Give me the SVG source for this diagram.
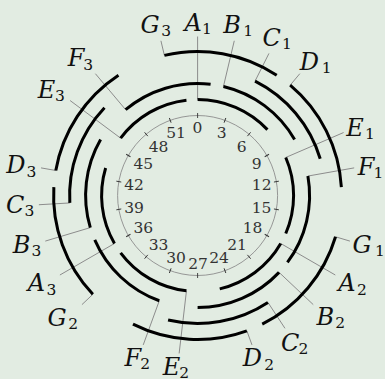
<svg xmlns="http://www.w3.org/2000/svg" width="385" height="379" viewBox="0 0 385 379">
<style>
.arc{fill:none;stroke:#000;stroke-width:3}
.lead{stroke:#8c8c8c;stroke-width:1;fill:none}
.dial{fill:none;stroke:#8c8c8c;stroke-width:0.9}
.tick{stroke:#333;stroke-width:0.9}
.num{font-family:'DejaVu Serif',serif;font-size:15.5px;fill:#333;text-anchor:middle}
.lab{font-family:'DejaVu Serif',serif;font-size:24px;font-style:italic;fill:#111}
.sub{font-size:15.5px;font-style:normal}
</style>
<rect width="385" height="379" fill="#e2ece2"/>
<g id="dial">
<circle class="dial" cx="197.6" cy="195.5" r="80"/>
<g class="tick">
<line x1="197.6" y1="113" x2="197.6" y2="118"/>
<line x1="197.6" y1="113" x2="197.6" y2="118" transform="rotate(20 197.6 195.5)"/>
<line x1="197.6" y1="113" x2="197.6" y2="118" transform="rotate(40 197.6 195.5)"/>
<line x1="197.6" y1="113" x2="197.6" y2="118" transform="rotate(60 197.6 195.5)"/>
<line x1="197.6" y1="113" x2="197.6" y2="118" transform="rotate(80 197.6 195.5)"/>
<line x1="197.6" y1="113" x2="197.6" y2="118" transform="rotate(100 197.6 195.5)"/>
<line x1="197.6" y1="113" x2="197.6" y2="118" transform="rotate(120 197.6 195.5)"/>
<line x1="197.6" y1="113" x2="197.6" y2="118" transform="rotate(140 197.6 195.5)"/>
<line x1="197.6" y1="113" x2="197.6" y2="118" transform="rotate(160 197.6 195.5)"/>
<line x1="197.6" y1="113" x2="197.6" y2="118" transform="rotate(180 197.6 195.5)"/>
<line x1="197.6" y1="113" x2="197.6" y2="118" transform="rotate(200 197.6 195.5)"/>
<line x1="197.6" y1="113" x2="197.6" y2="118" transform="rotate(220 197.6 195.5)"/>
<line x1="197.6" y1="113" x2="197.6" y2="118" transform="rotate(240 197.6 195.5)"/>
<line x1="197.6" y1="113" x2="197.6" y2="118" transform="rotate(260 197.6 195.5)"/>
<line x1="197.6" y1="113" x2="197.6" y2="118" transform="rotate(280 197.6 195.5)"/>
<line x1="197.6" y1="113" x2="197.6" y2="118" transform="rotate(300 197.6 195.5)"/>
<line x1="197.6" y1="113" x2="197.6" y2="118" transform="rotate(320 197.6 195.5)"/>
<line x1="197.6" y1="113" x2="197.6" y2="118" transform="rotate(340 197.6 195.5)"/>
</g>
<g class="num">
<text x="197.5" y="133.3">0</text>
<text x="221.7" y="137.5">3</text>
<text x="241.7" y="151.8">6</text>
<text x="256.7" y="168.5">9</text>
<text x="261.7" y="189.8">12</text>
<text x="261.5" y="212.8">15</text>
<text x="252.5" y="232.8">18</text>
<text x="237" y="250.3">21</text>
<text x="219" y="262.8">24</text>
<text x="198" y="269.1">27</text>
<text x="176" y="262.8">30</text>
<text x="158.5" y="250.3">33</text>
<text x="143.3" y="232.8">36</text>
<text x="134" y="212.8">39</text>
<text x="134" y="189.8">42</text>
<text x="143.3" y="168.5">45</text>
<text x="158.5" y="151.8">48</text>
<text x="176" y="137.8">51</text>
</g>
</g>
<g id="connectors" class="lead">
<line x1="197.6" y1="99.5" x2="197.6" y2="36.5"/>
<line x1="223.43" y1="86.52" x2="234.27" y2="40.79"/>
<line x1="255.05" y1="81.12" x2="268.96" y2="53.41"/>
<line x1="290.16" y1="85.19" x2="299.8" y2="73.7"/>
<line x1="285.75" y1="157.48" x2="343.6" y2="132.52"/>
<line x1="307.9" y1="176.05" x2="354.18" y2="167.89"/>
<line x1="335.55" y1="236.8" x2="349.92" y2="241.1"/>
<line x1="280.74" y1="243.5" x2="335.3" y2="275"/>
<line x1="279.07" y1="272.36" x2="313.25" y2="304.61"/>
<line x1="267.94" y1="302.44" x2="284.97" y2="328.34"/>
<line x1="246.85" y1="330.82" x2="251.98" y2="344.91"/>
<line x1="186.46" y1="290.85" x2="179.14" y2="353.43"/>
<line x1="159.29" y1="300.75" x2="143.22" y2="344.91"/>
<line x1="92.86" y1="294.32" x2="81.95" y2="304.61"/>
<line x1="114.46" y1="243.5" x2="59.9" y2="275"/>
<line x1="90.31" y1="227.62" x2="45.28" y2="241.1"/>
<line x1="69.82" y1="202.94" x2="38.87" y2="204.74"/>
<line x1="55.79" y1="170.49" x2="41.02" y2="167.89"/>
<line x1="120.61" y1="138.16" x2="70.08" y2="100.53"/>
<line x1="125.61" y1="109.7" x2="95.4" y2="73.7"/>
<line x1="164.39" y1="55.38" x2="160.93" y2="40.79"/>
</g>
<g id="A1"><path class="arc" d="M197.6,99.5 A96,96 0 0 1 267.43,129.62"/><text class="lab" x="184.5" y="30.5">A<tspan class="sub" x="202" y="34">1</tspan></text></g>
<g id="B1"><path class="arc" d="M223.43,86.52 A112,112 0 0 1 294.6,139.5"/><text class="lab" x="223.2" y="32.5">B<tspan class="sub" x="243.3" y="36">1</tspan></text></g>
<g id="C1"><path class="arc" d="M255.05,81.12 A128,128 0 0 1 320.22,158.79"/><text class="lab" x="262.5" y="45.5">C<tspan class="sub" x="282" y="49">1</tspan></text></g>
<g id="D1"><path class="arc" d="M290.16,85.19 A144,144 0 0 1 341.36,187.13"/><text class="lab" x="299.8" y="69.5">D<tspan class="sub" x="321.7" y="73">1</tspan></text></g>
<g id="E1"><path class="arc" d="M285.75,157.48 A96,96 0 0 1 285.75,233.52"/><text class="lab" x="346.2" y="135.5">E<tspan class="sub" x="365" y="139">1</tspan></text></g>
<g id="F1"><path class="arc" d="M307.9,176.05 A112,112 0 0 1 287.43,262.4"/><text class="lab" x="357.8" y="174.5">F<tspan class="sub" x="373.5" y="178">1</tspan></text></g>
<g id="G1"><path class="arc" d="M335.55,236.8 A144,144 0 0 1 262.23,324.18"/><text class="lab" x="352.5" y="252.5">G<tspan class="sub" x="375" y="256">1</tspan></text></g>
<g id="A2"><path class="arc" d="M280.74,243.5 A96,96 0 0 1 219.74,288.91"/><text class="lab" x="338.2" y="291">A<tspan class="sub" x="357" y="294.5">2</tspan></text></g>
<g id="B2"><path class="arc" d="M279.07,272.36 A112,112 0 0 1 197.6,307.5"/><text class="lab" x="316.5" y="324.5">B<tspan class="sub" x="335.3" y="328">2</tspan></text></g>
<g id="C2"><path class="arc" d="M267.94,302.44 A128,128 0 0 1 168.08,320.05"/><text class="lab" x="281" y="350.5">C<tspan class="sub" x="298.6" y="354">2</tspan></text></g>
<g id="D2"><path class="arc" d="M246.85,330.82 A144,144 0 0 1 132.97,324.18"/><text class="lab" x="242.8" y="366">D<tspan class="sub" x="264.3" y="369.5">2</tspan></text></g>
<g id="E2"><path class="arc" d="M186.46,290.85 A96,96 0 0 1 120.61,252.84"/><text class="lab" x="162.8" y="374.5">E<tspan class="sub" x="179.3" y="377.5">2</tspan></text></g>
<g id="F2"><path class="arc" d="M159.29,300.75 A112,112 0 0 1 94.76,239.86"/><text class="lab" x="124.5" y="365.5">F<tspan class="sub" x="140.3" y="369">2</tspan></text></g>
<g id="G2"><path class="arc" d="M92.86,294.32 A144,144 0 0 1 53.84,187.13"/><text class="lab" x="47.5" y="325.5">G<tspan class="sub" x="68.3" y="329">2</tspan></text></g>
<g id="A3"><path class="arc" d="M114.46,243.5 A96,96 0 0 1 105.63,167.97"/><text class="lab" x="27.8" y="291.2">A<tspan class="sub" x="46.6" y="294.7">3</tspan></text></g>
<g id="B3"><path class="arc" d="M90.31,227.62 A112,112 0 0 1 100.6,139.5"/><text class="lab" x="12.8" y="252.5">B<tspan class="sub" x="31.6" y="256">3</tspan></text></g>
<g id="C3"><path class="arc" d="M69.82,202.94 A128,128 0 0 1 104.5,107.66"/><text class="lab" x="6" y="212.5">C<tspan class="sub" x="24.5" y="216">3</tspan></text></g>
<g id="D3"><path class="arc" d="M55.79,170.49 A144,144 0 0 1 118.47,75.19"/><text class="lab" x="6.2" y="173">D<tspan class="sub" x="26.6" y="176.5">3</tspan></text></g>
<g id="E3"><path class="arc" d="M120.61,138.16 A96,96 0 0 1 186.46,100.15"/><text class="lab" x="37.8" y="97.8">E<tspan class="sub" x="55" y="101.3">3</tspan></text></g>
<g id="F3"><path class="arc" d="M125.61,109.7 A112,112 0 0 1 210.6,84.26"/><text class="lab" x="67.8" y="66.2">F<tspan class="sub" x="83.3" y="69.7">3</tspan></text></g>
<g id="G3"><path class="arc" d="M164.39,55.38 A144,144 0 0 1 276.73,75.19"/><text class="lab" x="140.5" y="32.8">G<tspan class="sub" x="161.3" y="36.3">3</tspan></text></g>
</svg>
